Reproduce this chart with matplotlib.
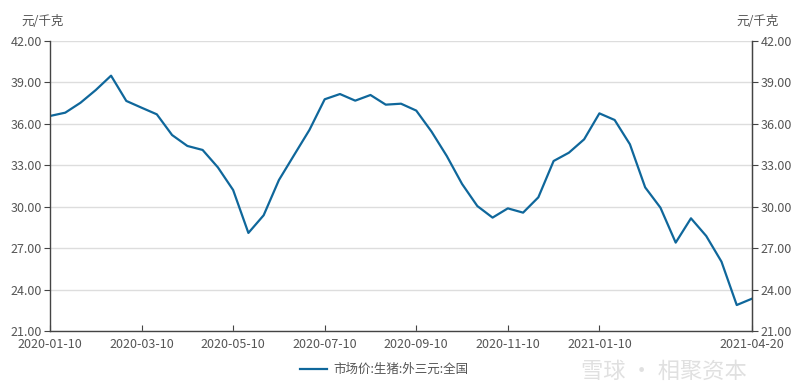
import matplotlib
matplotlib.use("Agg")
import matplotlib.pyplot as plt

plt.rcParams['font.family'] = ['Noto Sans CJK SC', 'DejaVu Sans']

dates = [
    "2020-01-10", "2020-01-20", "2020-01-31", "2020-02-10", "2020-02-20", "2020-02-29",
    "2020-03-10", "2020-03-20", "2020-03-31", "2020-04-10", "2020-04-20", "2020-04-30",
    "2020-05-10", "2020-05-20", "2020-05-31", "2020-06-10", "2020-06-20", "2020-06-30",
    "2020-07-10", "2020-07-20", "2020-07-31", "2020-08-10", "2020-08-20", "2020-08-31",
    "2020-09-10", "2020-09-20", "2020-09-30", "2020-10-10", "2020-10-20", "2020-10-31",
    "2020-11-10", "2020-11-20", "2020-11-30", "2020-12-10", "2020-12-20", "2020-12-31",
    "2021-01-10", "2021-01-20", "2021-01-31", "2021-02-10", "2021-02-20", "2021-02-28",
    "2021-03-10", "2021-03-20", "2021-03-31", "2021-04-10", "2021-04-20",
]
prices = [
    36.57, 36.81, 37.53, 38.45, 39.49, 37.66, 37.17, 36.69, 35.19, 34.40, 34.11, 32.85,
    31.21, 28.10, 29.38, 31.93, 33.75, 35.56, 37.78, 38.16, 37.68, 38.09, 37.39, 37.46,
    36.96, 35.44, 33.67, 31.65, 30.05, 29.21, 29.88, 29.57, 30.68, 33.31, 33.91, 34.88,
    36.76, 36.28, 34.52, 31.40, 29.93, 27.40, 29.16, 27.88, 26.02, 22.88, 23.34,
]
tick_labels = ["2020-01-10", "2020-03-10", "2020-05-10", "2020-07-10",
               "2020-09-10", "2020-11-10", "2021-01-10", "2021-04-20"]
y_ticks = [21, 24, 27, 30, 33, 36, 39, 42]
series_name = "市场价:生猪:外三元:全国"
unit = "元/千克"

line_color = "#0f679b"
text_color = "#555555"
axis_color = "#444444"

fig = plt.figure(figsize=(8, 3.85), dpi=100)
ax = fig.add_axes([0.0625, 0.1403, 0.8775, 0.7532])
x = list(range(len(dates)))
ln, = ax.plot(x, prices, color=line_color, lw=1.6, label=series_name)

ax.set_xlim(0, len(dates) - 1)
ax.set_ylim(21, 42)
ax.set_yticks(y_ticks)
ax.set_yticklabels([f"{v:.2f}" for v in y_ticks])
ax.grid(axis='y', color='#dddddd', lw=1.0)
ax.set_axisbelow(True)

tick_pos = [dates.index(d) for d in tick_labels]
ax.set_xticks(tick_pos)
ax.set_xticklabels(tick_labels)

ax.spines['top'].set_visible(False)
for s in ['left', 'right', 'bottom']:
    ax.spines[s].set_color(axis_color)
    ax.spines[s].set_linewidth(1.0)

ax.tick_params(axis='y', direction='out', length=4, color=axis_color,
               labelcolor=text_color, labelsize=9, pad=2)
ax.tick_params(axis='x', direction='in', length=4, color=axis_color,
               labelcolor=text_color, labelsize=9, pad=5)

ax2 = ax.twinx()
ax2.set_ylim(21, 42)
ax2.set_yticks(y_ticks)
ax2.set_yticklabels([f"{v:.2f}" for v in y_ticks])
ax2.tick_params(axis='y', direction='out', length=4, color=axis_color,
                labelcolor=text_color, labelsize=9, pad=2)
for s in ['top', 'left', 'bottom']:
    ax2.spines[s].set_visible(False)
ax2.spines['right'].set_color(axis_color)

fig.text(0.027, 0.945, unit, fontsize=9, color=text_color, ha='left', va='center')
fig.text(0.973, 0.945, unit, fontsize=9, color=text_color, ha='right', va='center')

fig.legend(handles=[ln], loc='center', bbox_to_anchor=(0.48, 0.04), frameon=False,
           fontsize=9, labelcolor=text_color, handlelength=2.2, handletextpad=0.5)

fig.text(0.83, 0.035, "雪球 · 相聚资本", fontsize=16, color='#cccccc', alpha=0.6,
         ha='center', va='center')

fig.savefig("out.png", dpi=100)
